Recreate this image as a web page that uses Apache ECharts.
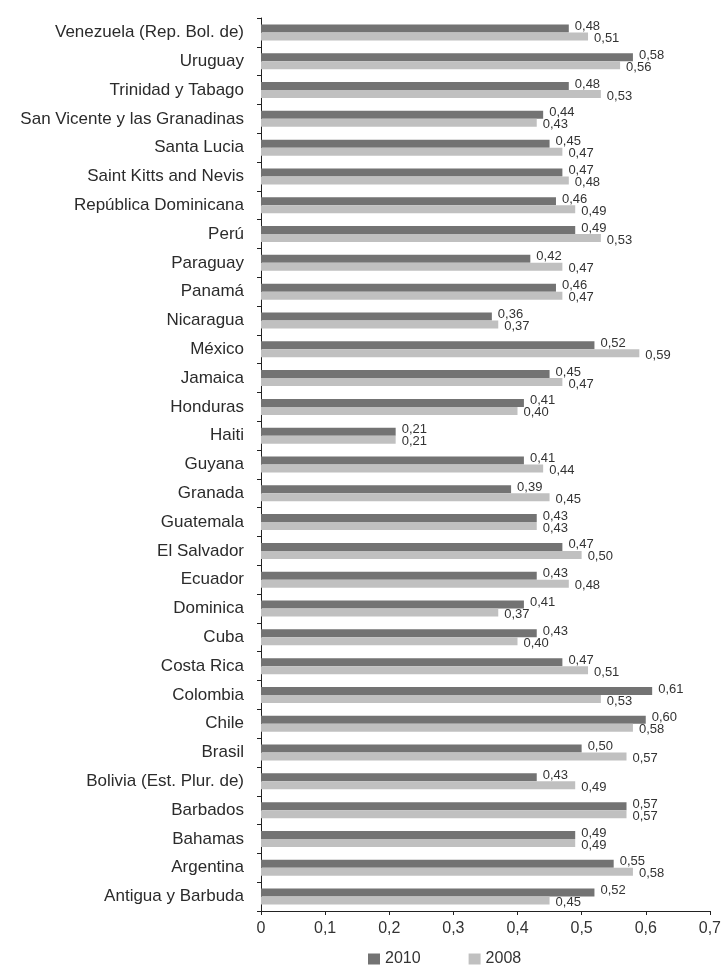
<!DOCTYPE html>
<html>
<head>
<meta charset="utf-8">
<script src="https://cdn.jsdelivr.net/npm/echarts@6/dist/echarts.min.js"></script>
<style>
html,body{margin:0;padding:0;background:#fff;}
#chart{width:724px;height:965px;}
</style>
</head>
<body>
<div id="chart"></div>
<script>
var categories = [
  "Venezuela (Rep. Bol. de)", "Uruguay", "Trinidad y Tabago", "San Vicente y las Granadinas",
  "Santa Lucia", "Saint Kitts and Nevis", "República Dominicana", "Perú", "Paraguay", "Panamá",
  "Nicaragua", "México", "Jamaica", "Honduras", "Haiti", "Guyana", "Granada", "Guatemala",
  "El Salvador", "Ecuador", "Dominica", "Cuba", "Costa Rica", "Colombia", "Chile", "Brasil",
  "Bolivia (Est. Plur. de)", "Barbados", "Bahamas", "Argentina", "Antigua y Barbuda"
];
var values2010 = [0.48, 0.58, 0.48, 0.44, 0.45, 0.47, 0.46, 0.49, 0.42, 0.46,
  0.36, 0.52, 0.45, 0.41, 0.21, 0.41, 0.39, 0.43, 0.47, 0.43, 0.41, 0.43,
  0.47, 0.61, 0.60, 0.50, 0.43, 0.57, 0.49, 0.55, 0.52];
var values2008 = [0.51, 0.56, 0.53, 0.43, 0.47, 0.48, 0.49, 0.53, 0.47, 0.47,
  0.37, 0.59, 0.47, 0.40, 0.21, 0.44, 0.45, 0.43, 0.50, 0.48, 0.37, 0.40,
  0.51, 0.53, 0.58, 0.57, 0.49, 0.57, 0.49, 0.58, 0.45];
var seriesNames = ["2010", "2008"];
var xTicks = [0, 0.1, 0.2, 0.3, 0.4, 0.5, 0.6, 0.7];

var FONT = "'Liberation Sans', Arial, sans-serif";
function fmt(v) { return v.toFixed(2).replace('.', ','); }

var chart = echarts.init(document.getElementById('chart'), null, {renderer: 'canvas'});
chart.setOption({
  animation: false,
  backgroundColor: '#ffffff',
  textStyle: {fontFamily: FONT},
  grid: {left: 261, right: 13, top: 18, bottom: 54, containLabel: false},
  legend: {
    data: seriesNames,
    left: 363,
    top: 946,
    itemWidth: 12,
    itemHeight: 11,
    itemGap: 48,
    icon: 'rect',
    textStyle: {fontSize: 16, color: '#333', fontFamily: FONT}
  },
  xAxis: {
    type: 'value',
    min: xTicks[0],
    max: xTicks[xTicks.length - 1],
    interval: 0.1,
    splitLine: {show: false},
    axisLine: {show: true, lineStyle: {color: '#222', width: 1}},
    axisTick: {show: true, length: 4, lineStyle: {color: '#222'}},
    axisLabel: {
      fontSize: 16, color: '#333', margin: 10, fontFamily: FONT,
      formatter: function (v) { return v === 0 ? '0' : String(Math.round(v * 10) / 10).replace('.', ','); }
    }
  },
  yAxis: {
    type: 'category',
    data: categories,
    inverse: true,
    axisLine: {show: true, lineStyle: {color: '#222', width: 1}},
    axisTick: {show: true, length: 4, alignWithLabel: false, lineStyle: {color: '#222'}},
    axisLabel: {fontSize: 17, color: '#2b2b2b', margin: 17, fontFamily: FONT}
  },
  series: [
    {
      name: seriesNames[0],
      type: 'bar',
      data: values2010,
      barWidth: 8,
      barGap: '0%',
      itemStyle: {color: '#737373'},
      label: {
        show: true, position: 'right', distance: 6, offset: [0, -2],
        fontSize: 13, color: '#333', fontFamily: FONT,
        formatter: function (p) { return fmt(p.value); }
      }
    },
    {
      name: seriesNames[1],
      type: 'bar',
      data: values2008,
      barWidth: 8,
      barGap: '0%',
      itemStyle: {color: '#c0c0c0'},
      label: {
        show: true, position: 'right', distance: 6, offset: [0, 2],
        fontSize: 13, color: '#333', fontFamily: FONT,
        formatter: function (p) { return fmt(p.value); }
      }
    }
  ]
});
</script>
</body>
</html>
